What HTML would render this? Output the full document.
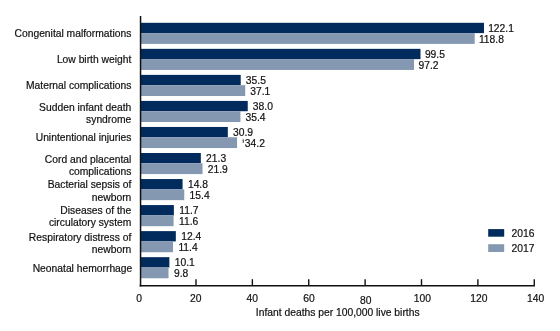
<!DOCTYPE html>
<html><head><meta charset="utf-8"><style>
html,body{margin:0;padding:0;background:#fff;}
svg{display:block;will-change:transform;}
text{font-family:"Liberation Sans",sans-serif;font-size:10.3px;fill:#111;stroke:#111;stroke-width:0.2px;}
</style></head><body>
<svg width="560" height="331" viewBox="0 0 560 331">

<rect x="141.00" y="22.80" width="342.98" height="10.3" fill="#002b5c"/>
<rect x="141.00" y="33.10" width="333.71" height="10.8" fill="#8598b2"/>
<text x="488.14" y="32.00">122.1</text>
<text x="478.90" y="42.65">118.8</text>
<text x="131.30" y="36.90" text-anchor="end">Congenital malformations</text>
<rect x="141.00" y="48.84" width="279.50" height="10.3" fill="#002b5c"/>
<rect x="141.00" y="59.14" width="273.03" height="10.8" fill="#8598b2"/>
<text x="424.90" y="58.04">99.5</text>
<text x="418.47" y="68.69">97.2</text>
<text x="131.30" y="62.94" text-anchor="end">Low birth weight</text>
<rect x="141.00" y="74.88" width="99.72" height="10.3" fill="#002b5c"/>
<rect x="141.00" y="85.18" width="104.21" height="10.8" fill="#8598b2"/>
<text x="245.83" y="84.08">35.5</text>
<text x="250.31" y="94.73">37.1</text>
<text x="131.30" y="88.98" text-anchor="end">Maternal complications</text>
<rect x="141.00" y="100.92" width="106.74" height="10.3" fill="#002b5c"/>
<rect x="141.00" y="111.22" width="99.44" height="10.8" fill="#8598b2"/>
<text x="252.82" y="110.12">38.0</text>
<text x="245.55" y="120.77">35.4</text>
<text x="131.30" y="110.67" text-anchor="end">Sudden infant death</text>
<text x="131.30" y="123.12" text-anchor="end">syndrome</text>
<rect x="141.00" y="126.96" width="86.80" height="10.3" fill="#002b5c"/>
<rect x="141.00" y="137.26" width="96.07" height="10.8" fill="#8598b2"/>
<text x="232.96" y="136.16">30.9</text>
<rect x="242.77" y="139.36" width="0.9" height="3.6" fill="#222"/>
<rect x="242.07" y="139.86" width="0.8" height="0.7" fill="#777"/>
<text x="244.87" y="146.81">34.2</text>
<text x="131.30" y="141.06" text-anchor="end">Unintentional injuries</text>
<rect x="141.00" y="153.00" width="59.83" height="10.3" fill="#002b5c"/>
<rect x="141.00" y="163.30" width="61.52" height="10.8" fill="#8598b2"/>
<text x="206.10" y="162.20">21.3</text>
<text x="207.78" y="172.85">21.9</text>
<text x="131.30" y="162.75" text-anchor="end">Cord and placental</text>
<text x="131.30" y="175.25" text-anchor="end">complications</text>
<rect x="141.00" y="179.04" width="41.57" height="10.3" fill="#002b5c"/>
<rect x="141.00" y="189.34" width="43.26" height="10.8" fill="#8598b2"/>
<text x="187.91" y="188.24">14.8</text>
<text x="189.59" y="198.89">15.4</text>
<text x="131.30" y="188.39" text-anchor="end">Bacterial sepsis of</text>
<text x="131.30" y="200.99" text-anchor="end">newborn</text>
<rect x="141.00" y="205.08" width="32.87" height="10.3" fill="#002b5c"/>
<rect x="141.00" y="215.38" width="32.58" height="10.8" fill="#8598b2"/>
<text x="179.24" y="214.28">11.7</text>
<text x="178.96" y="224.93">11.6</text>
<text x="131.30" y="214.33" text-anchor="end">Diseases of the</text>
<text x="131.30" y="226.03" text-anchor="end">circulatory system</text>
<rect x="141.00" y="231.12" width="34.83" height="10.3" fill="#002b5c"/>
<rect x="141.00" y="241.42" width="32.02" height="10.8" fill="#8598b2"/>
<text x="181.20" y="240.32">12.4</text>
<text x="178.40" y="250.97">11.4</text>
<text x="131.30" y="241.47" text-anchor="end">Respiratory distress of</text>
<text x="131.30" y="252.97" text-anchor="end">newborn</text>
<rect x="141.00" y="257.16" width="28.37" height="10.3" fill="#002b5c"/>
<rect x="141.00" y="267.46" width="27.53" height="10.8" fill="#8598b2"/>
<text x="174.76" y="266.36">10.1</text>
<text x="173.92" y="277.01">9.8</text>
<text x="132.30" y="271.66" text-anchor="end">Neonatal hemorrhage</text>
<line x1="140.55" y1="16" x2="140.55" y2="286.5" stroke="#111" stroke-width="1.5"/>
<line x1="139.6" y1="285.7" x2="534.96" y2="285.7" stroke="#111" stroke-width="1.6"/>
<line x1="195.98" y1="279.2" x2="195.98" y2="285" stroke="#111" stroke-width="1.4"/>
<line x1="252.36" y1="279.2" x2="252.36" y2="285" stroke="#111" stroke-width="1.4"/>
<line x1="308.74" y1="279.2" x2="308.74" y2="285" stroke="#111" stroke-width="1.4"/>
<line x1="365.12" y1="279.2" x2="365.12" y2="285" stroke="#111" stroke-width="1.4"/>
<line x1="421.50" y1="279.2" x2="421.50" y2="285" stroke="#111" stroke-width="1.4"/>
<line x1="477.88" y1="279.2" x2="477.88" y2="285" stroke="#111" stroke-width="1.4"/>
<line x1="534.26" y1="279.2" x2="534.26" y2="285" stroke="#111" stroke-width="1.4"/>
<text x="139.05" y="302" text-anchor="middle">0</text>
<text x="195.70" y="302" text-anchor="middle">20</text>
<text x="252.35" y="302" text-anchor="middle">40</text>
<text x="309.00" y="302" text-anchor="middle">60</text>
<text x="365.65" y="303.5" text-anchor="middle">80</text>
<text x="422.30" y="302" text-anchor="middle">100</text>
<text x="478.95" y="302" text-anchor="middle">120</text>
<text x="535.60" y="302" text-anchor="middle">140</text>
<text x="337.7" y="315.7" text-anchor="middle">Infant deaths per 100,000 live births</text>
<rect x="488.2" y="229.1" width="16" height="7.6" fill="#002b5c"/>
<rect x="488.2" y="244.2" width="16" height="7.8" fill="#8598b2"/>
<text x="511.5" y="236.7">2016</text>
<text x="511.5" y="251.7">2017</text>
</svg>
</body></html>
